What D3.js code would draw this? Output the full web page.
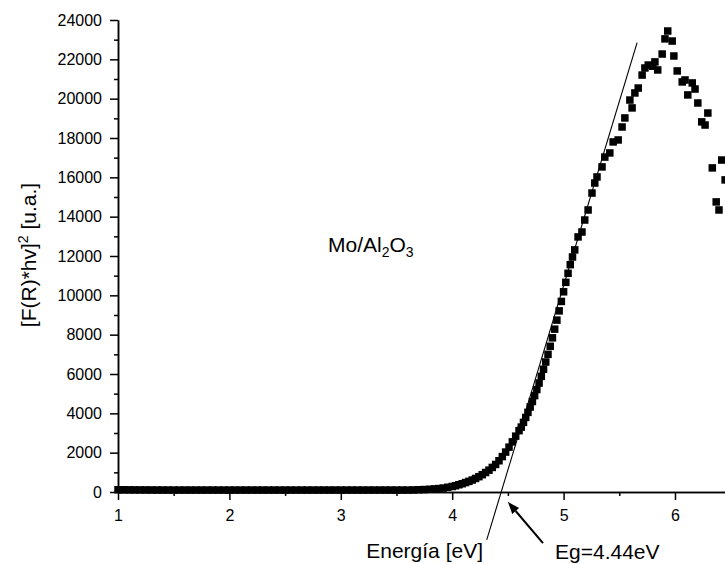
<!DOCTYPE html>
<html>
<head>
<meta charset="utf-8">
<script src="https://cdn.jsdelivr.net/npm/d3@7"></script>
<style>
  body { margin: 0; background: #fff; }
  svg { display: block; font-family: Arial, "Liberation Sans", sans-serif; }
</style>
</head>
<body>
<svg id="chart" width="725" height="564"></svg>
<script>
// Photon energy (eV) of each measured point
const energy = [
  1.00, 1.05, 1.10, 1.15, 1.20, 1.25, 1.30, 1.35, 1.40, 1.45,
  1.50, 1.55, 1.60, 1.65, 1.70, 1.75, 1.80, 1.85, 1.90, 1.95,
  2.00, 2.05, 2.10, 2.15, 2.20, 2.25, 2.30, 2.35, 2.40, 2.45,
  2.50, 2.55, 2.60, 2.65, 2.70, 2.75, 2.80, 2.85, 2.90, 2.95,
  3.00, 3.05, 3.10, 3.15, 3.20, 3.25, 3.30, 3.35, 3.40, 3.45,
  3.50, 3.55,
  3.60, 3.65, 3.70, 3.75, 3.80, 3.84, 3.88, 3.92, 3.96, 4.00,
  4.03, 4.06, 4.09, 4.12, 4.15, 4.18, 4.21, 4.24, 4.27, 4.30,
  4.33, 4.36, 4.39, 4.42, 4.45, 4.48, 4.51, 4.54, 4.57, 4.60,
  4.62, 4.64, 4.66, 4.68, 4.70, 4.72, 4.74, 4.76, 4.78, 4.80,
  4.82, 4.84, 4.86, 4.88, 4.90, 4.92, 4.94, 4.96, 4.98, 5.00,
  5.02, 5.04, 5.06, 5.08,
  5.10, 5.13, 5.165, 5.19, 5.22, 5.255, 5.28, 5.30, 5.345, 5.37,
  5.415, 5.445, 5.49, 5.525, 5.55, 5.595, 5.615, 5.64, 5.67, 5.705,
  5.73, 5.76, 5.80, 5.82, 5.845, 5.885, 5.91, 5.935, 5.975, 5.99,
  6.02, 6.065, 6.09, 6.115, 6.155, 6.18, 6.205, 6.24, 6.27, 6.295,
  6.335, 6.37, 6.395, 6.42, 6.45
];

// Kubelka-Munk term [F(R)*hv]^2 (u.a.) at each energy
const signal = [
  115, 112, 110, 108, 106, 105, 104, 103, 102, 101,
  100, 100, 100, 100, 100, 100, 100, 100, 100, 100,
  100, 100, 100, 100, 100, 100, 100, 100, 100, 100,
  100, 100, 100, 100, 100, 100, 100, 100, 100, 100,
  100, 100, 100, 100, 100, 100, 100, 100, 100, 100,
  100, 100,
  100, 105, 115, 125, 140, 155, 175, 200, 240, 280,
  320, 370, 420, 480, 540, 610, 690, 780, 880, 990,
  1110, 1250, 1400, 1590, 1800, 2030, 2280, 2550, 2840, 3120,
  3300, 3540, 3790, 4050, 4320, 4600, 4900, 5210, 5540, 5880,
  6240, 6610, 7000, 7410, 7840, 8280, 8740, 9210, 9690, 10180,
  10660, 11120, 11560, 11950,
  12310, 12970, 13220, 13830, 14340, 15200, 15710, 16020, 16530, 17030,
  17240, 17800, 17900, 18560, 19020, 19930, 19530, 20290, 20540, 21200,
  21560, 21710, 21650, 21870, 21460, 22270, 23040, 23440, 22930, 22170,
  21410, 20850, 20950, 20190, 20800, 20490, 19780, 18820, 18660, 19270,
  16480, 14750, 14340, 16880, 15870
];

const xTicks = [1, 2, 3, 4, 5, 6];
const xMinorTicks = [1.5, 2.5, 3.5, 4.5, 5.5];
const yTicks = [0, 2000, 4000, 6000, 8000, 10000, 12000, 14000, 16000, 18000, 20000, 22000, 24000];
const yMinorTicks = [1000, 3000, 5000, 7000, 9000, 11000, 13000, 15000, 17000, 19000, 21000, 23000];

// Linear fit of the absorption edge; it meets zero at the band gap
const bandGap = 4.44;
const tangentSlope = 18730;
const tangentEnergy = [4.31, 5.66];

const svg = d3.select("#chart");
const x = d3.scaleLinear().domain([1, 6.449]).range([118, 725]);
const y = d3.scaleLinear().domain([0, 24000]).range([492, 20]);

// Axes: major ticks with labels, minor ticks without
function styleAxis(g) {
  g.selectAll("path, line").attr("stroke", "#000").attr("stroke-width", 1.5);
  g.selectAll("text").attr("fill", "#000").attr("font-size", "16px")
    .attr("font-family", "Arial, 'Liberation Sans', sans-serif");
}

svg.append("g").attr("transform", `translate(0,${y(0)})`)
  .call(d3.axisBottom(x).tickValues(xMinorTicks).tickSize(4).tickSizeOuter(0).tickFormat(""))
  .call(styleAxis);
svg.append("g").attr("transform", `translate(0,${y(0)})`)
  .call(d3.axisBottom(x).tickValues(xTicks).tickSize(8).tickSizeOuter(0).tickPadding(10).tickFormat(d3.format("d")))
  .call(styleAxis);

svg.append("g").attr("transform", `translate(${x(1)},0)`)
  .call(d3.axisLeft(y).tickValues(yMinorTicks).tickSize(4).tickSizeOuter(0).tickFormat(""))
  .call(styleAxis);
svg.append("g").attr("transform", `translate(${x(1)},0)`)
  .call(d3.axisLeft(y).tickValues(yTicks).tickSize(8).tickSizeOuter(0).tickPadding(8).tickFormat(d3.format("d")))
  .call(styleAxis);

// Measured points as filled squares
const points = energy.map((e, i) => ({ e, v: signal[i] }));
const s = 7.5;
svg.append("g").selectAll("rect").data(points).join("rect")
  .attr("x", d => x(d.e) - s / 2)
  .attr("y", d => y(d.v) - s / 2)
  .attr("width", s).attr("height", s)
  .attr("fill", "#000");

// Tangent line to the linear part of the edge
svg.append("line")
  .attr("x1", x(tangentEnergy[0])).attr("y1", y(tangentSlope * (tangentEnergy[0] - bandGap)))
  .attr("x2", x(tangentEnergy[1])).attr("y2", y(tangentSlope * (tangentEnergy[1] - bandGap)))
  .attr("stroke", "#000").attr("stroke-width", 1.1);

// Arrow pointing at the band-gap intercept
const tipX = x(bandGap + 0.06), tipY = y(-500);
const tailX = x(bandGap + 0.375), tailY = y(-2600);
const ang = Math.atan2(tipY - tailY, tipX - tailX);
const headLen = 12, headHalf = 4.5;
const bx = tipX - headLen * Math.cos(ang), by = tipY - headLen * Math.sin(ang);
svg.append("line")
  .attr("x1", tailX).attr("y1", tailY).attr("x2", bx).attr("y2", by)
  .attr("stroke", "#000").attr("stroke-width", 2);
svg.append("polygon")
  .attr("points", [
    [tipX, tipY],
    [bx + headHalf * Math.sin(ang), by - headHalf * Math.cos(ang)],
    [bx - headHalf * Math.sin(ang), by + headHalf * Math.cos(ang)]
  ].map(p => p.join(",")).join(" "))
  .attr("fill", "#000");

// Text labels
svg.append("text")
  .attr("x", 483).attr("y", 558).attr("text-anchor", "end")
  .attr("font-size", "21px").attr("fill", "#000")
  .text("Energía [eV]");

svg.append("text")
  .attr("x", 555).attr("y", 559)
  .attr("font-size", "21px").attr("fill", "#000")
  .text(`Eg=${bandGap.toFixed(2)}eV`);

const sample = svg.append("text")
  .attr("x", 328).attr("y", 252)
  .attr("font-size", "21px").attr("fill", "#000");
sample.append("tspan").text("Mo/Al");
sample.append("tspan").attr("font-size", "14px").attr("dy", 5).text("2");
sample.append("tspan").attr("dy", -5).text("O");
sample.append("tspan").attr("font-size", "14px").attr("dy", 5).text("3");

const yLabel = svg.append("text")
  .attr("transform", "translate(36,255) rotate(-90)")
  .attr("text-anchor", "middle")
  .attr("font-size", "21px").attr("fill", "#000");
yLabel.append("tspan").text("[F(R)*hv]");
yLabel.append("tspan").attr("font-size", "14px").attr("dy", -8).text("2");
yLabel.append("tspan").attr("dy", 8).text(" [u.a.]");
</script>
</body>
</html>
